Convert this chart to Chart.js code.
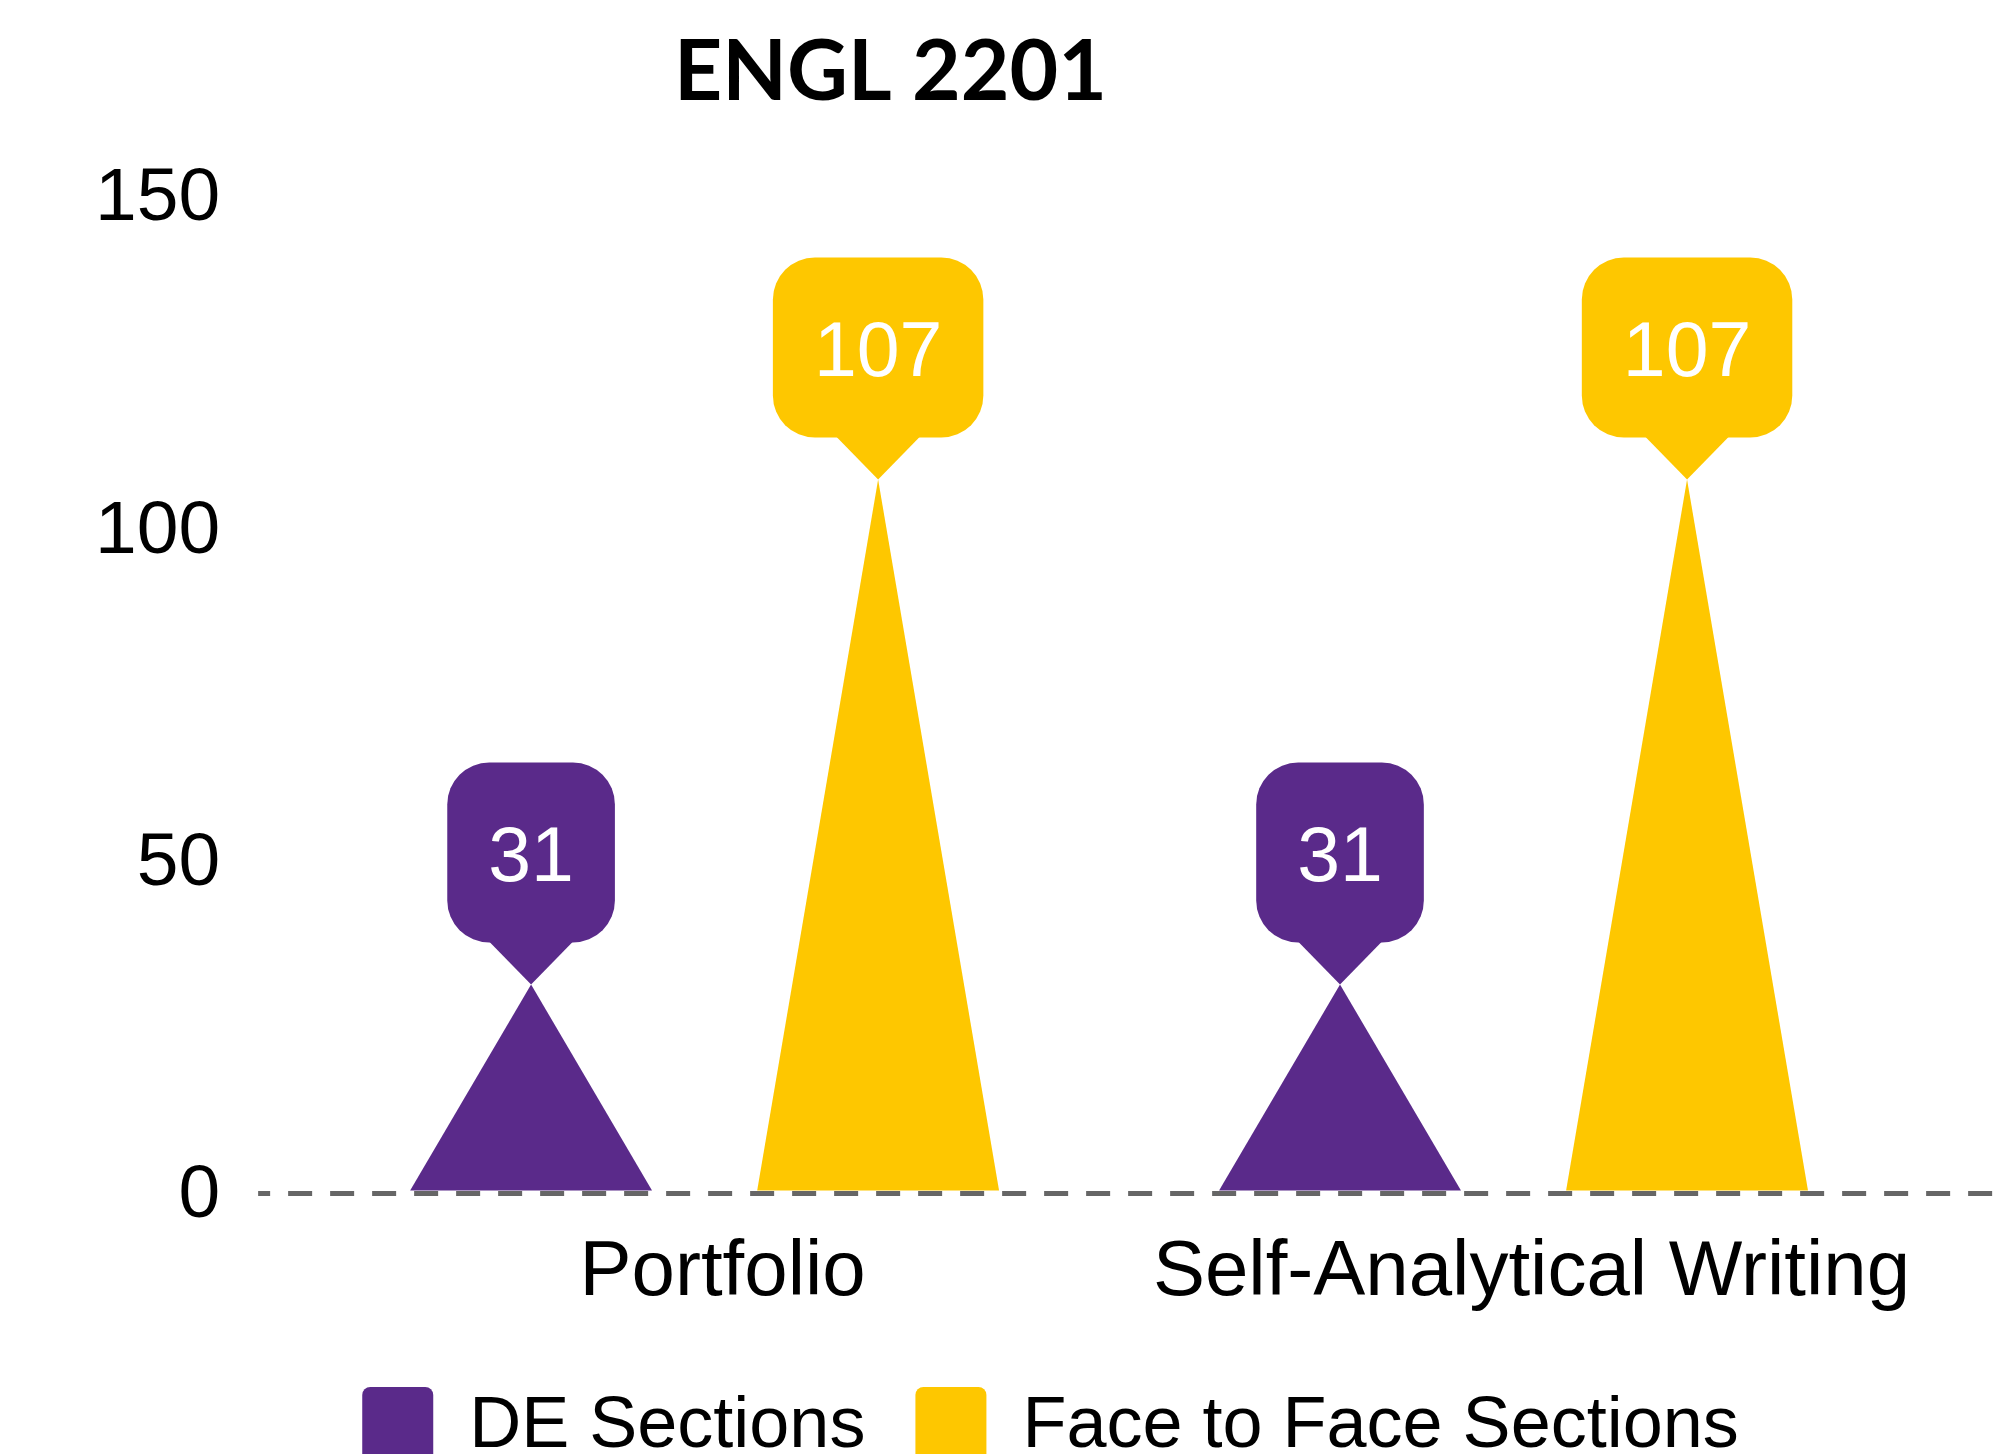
<!DOCTYPE html>
<html>
<head>
<meta charset="utf-8">
<script src="https://cdn.jsdelivr.net/npm/chart.js@4.4.0/dist/chart.umd.min.js"></script>
<style>
  html, body { margin: 0; padding: 0; background: #fff; overflow: hidden; }
  #wrap { width: 1997px; height: 1477px; position: relative; }
</style>
</head>
<body>
<div id="wrap"><canvas id="chart"></canvas></div>
<script>
const categories = ["Portfolio", "Self-Analytical Writing"];
const deSections = [31, 31];
const faceToFace = [107, 107];
const yTicks = [0, 50, 100, 150];

const PURPLE = "#5a2a8a";
const GOLD = "#fec700";
const SANS = "'Liberation Sans', Arial, sans-serif";

Chart.defaults.font.family = SANS;
Chart.defaults.color = "#000";

// each bar is drawn as a triangle with a callout bubble holding its value
const peaks = {
  id: "peaks",
  beforeDatasetDraw() {
    return false;
  },
  afterDatasetsDraw(chart) {
    const ctx = chart.ctx;
    chart.data.datasets.forEach((ds, i) => {
      const meta = chart.getDatasetMeta(i);
      meta.data.forEach((bar, j) => {
        const half = bar.width / 2;
        ctx.save();
        ctx.fillStyle = ds.backgroundColor;
        ctx.beginPath();
        ctx.moveTo(bar.x - half, bar.base);
        ctx.lineTo(bar.x, bar.y);
        ctx.lineTo(bar.x + half, bar.base);
        ctx.closePath();
        ctx.fill();

        const label = String(ds.data[j]);
        ctx.font = "77px " + SANS;
        const w = ctx.measureText(label).width + 82;
        const h = 180, r = 42, tip = 42;
        const bottom = bar.y - tip;
        ctx.beginPath();
        ctx.roundRect(bar.x - w / 2, bottom - h, w, h, r);
        ctx.fill();
        ctx.beginPath();
        ctx.moveTo(bar.x, bar.y);
        ctx.lineTo(bar.x - tip, bottom - 1);
        ctx.lineTo(bar.x + tip, bottom - 1);
        ctx.closePath();
        ctx.fill();

        ctx.fillStyle = "#fff";
        ctx.textAlign = "center";
        ctx.textBaseline = "middle";
        ctx.fillText(label, bar.x, bottom - h / 2 + 7);
        ctx.restore();
      });
    });
  },
};

// dashed baseline at zero, running past the plot to the right edge
const zeroLine = {
  id: "zeroLine",
  afterDatasetsDraw(chart) {
    const ctx = chart.ctx;
    const y = chart.scales.y.getPixelForValue(0) + 3;
    ctx.save();
    ctx.strokeStyle = "#666";
    ctx.lineWidth = 5;
    ctx.setLineDash([24, 18]);
    ctx.lineDashOffset = 12;
    ctx.beginPath();
    ctx.moveTo(chart.chartArea.left - 42, y);
    ctx.lineTo(chart.width, y);
    ctx.stroke();
    ctx.restore();
  },
};

// title and legend sit off-centre in the original
const nudge = {
  id: "nudge",
  afterLayout(chart) {
    chart.titleBlock.left -= 76;
    chart.titleBlock.right -= 76;
    chart.legend.left += 84;
    chart.legend.right += 84;
  },
};

new Chart(document.getElementById("chart"), {
  type: "bar",
  data: {
    labels: categories,
    datasets: [
      { label: "DE Sections", data: deSections, backgroundColor: PURPLE, borderWidth: 0 },
      { label: "Face to Face Sections", data: faceToFace, backgroundColor: GOLD, borderWidth: 0 },
    ],
  },
  plugins: [peaks, zeroLine, nudge],
  options: {
    responsive: true,
    maintainAspectRatio: false,
    animation: false,
    layout: { padding: { left: 15, right: 79, top: 0, bottom: 0 } },
    datasets: { bar: { categoryPercentage: 0.858, barPercentage: 0.697 } },
    plugins: {
      title: {
        display: true,
        text: "ENGL 2201",
        color: "#000",
        font: { family: "Lato", weight: "bold", size: 84 },
        padding: { top: 23, bottom: 70 },
      },
      legend: {
        position: "bottom",
        labels: {
          color: "#000",
          font: { size: 72 },
          boxWidth: 71,
          boxHeight: 80,
          padding: 50,
          useBorderRadius: true,
          borderRadius: 8,
        },
      },
      tooltip: { enabled: false },
    },
    scales: {
      x: {
        grid: { display: false, drawTicks: false },
        border: { display: false },
        ticks: {
          color: "#000",
          font: { size: 78 },
          padding: 36,
          labelOffset: 18,
          maxRotation: 0,
          autoSkip: false,
        },
        afterFit(axis) {
          axis.height -= 19;
        },
      },
      y: {
        min: 0,
        max: 150,
        afterBuildTicks(axis) {
          axis.ticks = yTicks.map((v) => ({ value: v }));
        },
        grid: { display: false, drawTicks: false },
        border: { display: false },
        ticks: { color: "#000", font: { size: 75 }, padding: 80, labelOffset: 6 },
      },
    },
  },
});
</script>
</body>
</html>
